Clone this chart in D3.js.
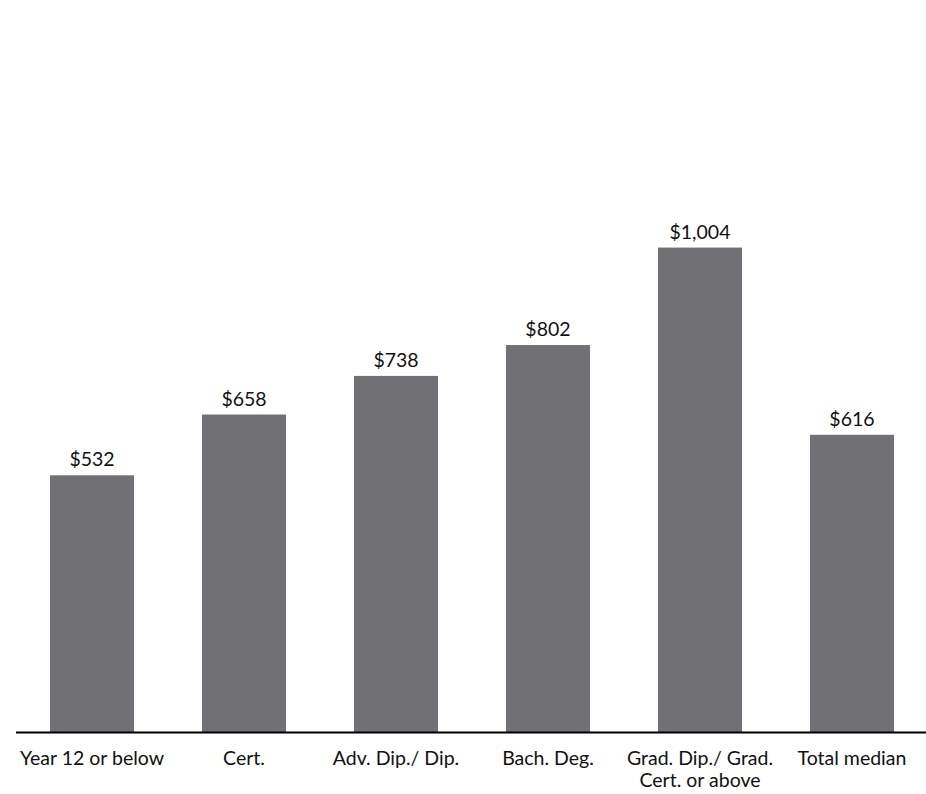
<!DOCTYPE html>
<html>
<head>
<meta charset="utf-8">
<script src="https://cdn.jsdelivr.net/npm/d3@7"></script>
<style>
  html, body { margin: 0; padding: 0; background: #fff; }
  svg { display: block; }
  text { font-family: Lato, "Open Sans", sans-serif; fill: #111; }
</style>
</head>
<body>
<svg id="chart" width="926" height="794"></svg>
<script>
// Median weekly earnings by highest qualification
const categories = [
  ["Year 12 or below"],
  ["Cert."],
  ["Adv. Dip./ Dip."],
  ["Bach. Deg."],
  ["Grad. Dip./ Grad.", "Cert. or above"],
  ["Total median"]
];
const values = [532, 658, 738, 802, 1004, 616];

const W = 926, H = 794;
const baseY = 732;
const svg = d3.select("#chart");

const keys = categories.map((c, i) => i);
const x = d3.scaleBand()
  .domain(keys)
  .range([16, 928])
  .paddingInner(0.447)
  .paddingOuter(0.2237);

const y = d3.scaleLinear()
  .domain([0, 1200])
  .range([baseY, baseY - 1200 * 0.4825]);

const fmt = v => "$" + d3.format(",")(v);

// bars
svg.append("g").selectAll("rect")
  .data(values)
  .join("rect")
  .attr("x", (d, i) => x(i))
  .attr("width", x.bandwidth())
  .attr("y", d => y(d))
  .attr("height", d => y(0) - y(d))
  .attr("fill", "#717074");

// value labels
svg.append("g").selectAll("text")
  .data(values)
  .join("text")
  .attr("x", (d, i) => x(i) + x.bandwidth() / 2)
  .attr("y", d => y(d) - 9)
  .attr("text-anchor", "middle")
  .attr("font-size", 19.5)
  .text(d => fmt(d));

// category axis
const axis = d3.axisBottom(x).tickSize(0).tickFormat(() => "");
const gx = svg.append("g")
  .attr("transform", `translate(0,${baseY})`)
  .call(axis);
gx.select(".domain").remove();
gx.append("line")
  .attr("x1", 16).attr("x2", 926)
  .attr("y1", 0.5).attr("y2", 0.5)
  .attr("stroke", "#000")
  .attr("stroke-width", 2);

gx.selectAll(".tick").each(function(d) {
  const t = d3.select(this).append("text")
    .attr("text-anchor", "middle")
    .attr("font-size", 19.5)
    .attr("fill", "#111");
  categories[d].forEach((line, j) => {
    t.append("tspan").attr("x", 0).attr("y", 33 + j * 22).text(line);
  });
});
</script>
</body>
</html>
